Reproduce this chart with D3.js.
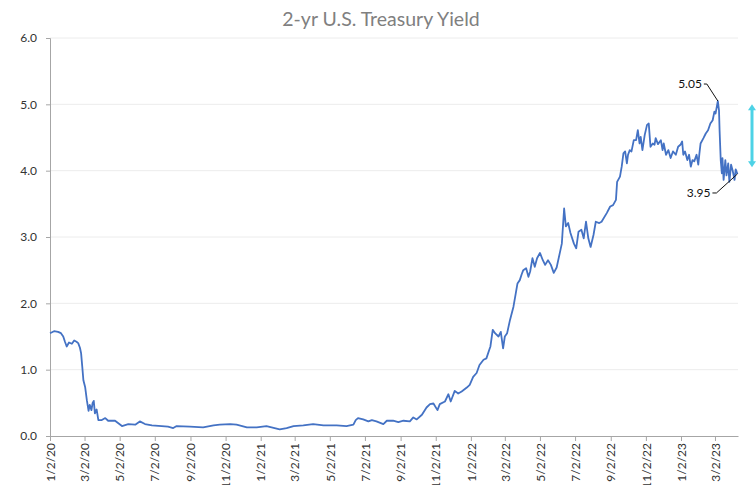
<!DOCTYPE html>
<html><head><meta charset="utf-8">
<script src="https://cdn.jsdelivr.net/npm/d3@7"></script>
<style>html,body{margin:0;padding:0;background:#fff;}svg{display:block;}</style>
</head><body>
<svg id="chart" width="756" height="485"></svg>
<script>
const title = "2-yr U.S. Treasury Yield";
const dates = [
"2020-01-02","2020-01-09","2020-01-16","2020-01-21","2020-01-25","2020-01-28","2020-01-31","2020-02-04","2020-02-09","2020-02-13",
"2020-02-17","2020-02-20","2020-02-23","2020-02-25","2020-02-27","2020-02-29","2020-03-03","2020-03-06","2020-03-09","2020-03-11",
"2020-03-14","2020-03-16","2020-03-18","2020-03-20","2020-03-23","2020-03-26","2020-04-01","2020-04-07","2020-04-12","2020-04-24",
"2020-05-06","2020-05-17","2020-05-29","2020-06-06","2020-06-15","2020-06-27","2020-07-14","2020-07-25","2020-08-03","2020-08-09",
"2020-09-01","2020-09-24","2020-10-12","2020-10-23","2020-11-10","2020-11-21","2020-12-09","2020-12-26","2021-01-12","2021-02-04",
"2021-02-16","2021-02-28","2021-03-17","2021-04-03","2021-04-21","2021-05-14","2021-05-31","2021-06-12","2021-06-16","2021-06-20",
"2021-06-29","2021-07-08","2021-07-14","2021-07-22","2021-08-03","2021-08-09","2021-08-20","2021-08-29","2021-09-07","2021-09-18",
"2021-09-24","2021-09-30","2021-10-09","2021-10-17","2021-10-23","2021-10-29","2021-11-05","2021-11-09","2021-11-18","2021-11-24",
"2021-11-28","2021-12-05","2021-12-11","2021-12-17","2021-12-26","2021-12-31","2022-01-06","2022-01-12","2022-01-17","2022-01-24",
"2022-01-29","2022-02-03","2022-02-05","2022-02-09","2022-02-13","2022-02-19","2022-02-23","2022-02-27","2022-03-02","2022-03-06",
"2022-03-11","2022-03-17","2022-03-21","2022-03-24","2022-03-28","2022-03-31","2022-04-03","2022-04-08","2022-04-12","2022-04-15",
"2022-04-19","2022-04-23","2022-04-27","2022-05-02","2022-05-07","2022-05-11","2022-05-16","2022-05-21","2022-05-26","2022-05-31",
"2022-06-06","2022-06-09","2022-06-13","2022-06-16","2022-06-20","2022-06-24","2022-06-30","2022-07-04","2022-07-08","2022-07-13",
"2022-07-17","2022-07-21","2022-07-25","2022-07-29","2022-08-03","2022-08-07","2022-08-13","2022-08-17","2022-08-26","2022-09-01",
"2022-09-06","2022-09-11","2022-09-13","2022-09-18","2022-09-21","2022-09-24","2022-09-27","2022-09-30","2022-10-02","2022-10-05",
"2022-10-08","2022-10-12","2022-10-16","2022-10-19","2022-10-22","2022-10-24","2022-10-27","2022-10-31","2022-11-04","2022-11-07",
"2022-11-10","2022-11-14","2022-11-17","2022-11-19","2022-11-23","2022-11-28","2022-12-01","2022-12-03","2022-12-07","2022-12-11",
"2022-12-15","2022-12-19","2022-12-24","2022-12-28","2023-01-01","2023-01-04","2023-01-06","2023-01-09","2023-01-13","2023-01-16",
"2023-01-19","2023-01-22","2023-01-25","2023-01-29","2023-02-01","2023-02-03","2023-02-05","2023-02-10","2023-02-14","2023-02-18",
"2023-02-22","2023-02-26","2023-03-01","2023-03-03","2023-03-07","2023-03-09","2023-03-10","2023-03-12","2023-03-14","2023-03-15",
"2023-03-17","2023-03-20","2023-03-22","2023-03-25","2023-03-27","2023-03-30","2023-04-02","2023-04-05","2023-04-07","2023-04-10"
];
const yields = [
1.55,1.58,1.57,1.55,1.50,1.42,1.35,1.41,1.39,1.44,
1.42,1.40,1.33,1.25,1.05,0.84,0.74,0.54,0.38,0.47,
0.39,0.50,0.53,0.34,0.40,0.24,0.24,0.27,0.23,0.23,
0.15,0.18,0.17,0.22,0.18,0.16,0.15,0.14,0.12,0.15,
0.14,0.13,0.16,0.17,0.18,0.17,0.13,0.13,0.15,0.10,
0.12,0.15,0.16,0.18,0.16,0.16,0.15,0.17,0.24,0.27,
0.25,0.22,0.24,0.22,0.18,0.23,0.23,0.21,0.23,0.22,
0.28,0.25,0.32,0.43,0.48,0.49,0.39,0.48,0.52,0.63,
0.52,0.68,0.64,0.67,0.73,0.77,0.89,0.95,1.07,1.15,
1.17,1.30,1.35,1.60,1.55,1.50,1.57,1.32,1.50,1.55,
1.75,1.95,2.15,2.30,2.35,2.43,2.50,2.53,2.40,2.48,
2.68,2.55,2.68,2.76,2.65,2.58,2.65,2.58,2.46,2.54,
2.78,2.90,3.43,3.16,3.21,3.06,2.90,2.83,3.08,3.11,
2.98,3.23,2.98,2.85,3.03,3.23,3.21,3.23,3.36,3.46,
3.48,3.56,3.83,3.91,4.06,4.26,4.29,4.11,4.24,4.31,
4.29,4.46,4.46,4.61,4.41,4.51,4.31,4.54,4.69,4.71,
4.36,4.41,4.39,4.49,4.40,4.46,4.31,4.41,4.24,4.31,
4.19,4.29,4.24,4.36,4.39,4.44,4.24,4.29,4.16,4.24,
4.06,4.16,4.14,4.24,4.09,4.26,4.41,4.49,4.56,4.61,
4.71,4.76,4.89,4.86,5.05,4.91,4.61,4.16,3.96,4.19,
3.86,4.16,3.93,4.11,3.83,4.09,3.99,3.86,4.02,3.95
];
const yTicks = [0,1,2,3,4,5,6];
const xTickLabels = ["1/2/20","3/2/20","5/2/20","7/2/20","9/2/20","11/2/20","1/2/21","3/2/21","5/2/21","7/2/21","9/2/21","11/2/21","1/2/22","3/2/22","5/2/22","7/2/22","9/2/22","11/2/22","1/2/23","3/2/23"];
const xDomain = ["2020-01-02","2023-04-11"];
const peakLabel = "5.05", lastLabel = "3.95";
const arrowRange = [5.0, 4.05];

const parse = d3.timeParse("%Y-%m-%d");
const parseTick = d3.timeParse("%m/%d/%y");
const data = dates.map((d,i)=>({date:parse(d), v:yields[i]}));

const svg = d3.select("#chart");
const m = {left:50, right:738, top:38, bottom:436};
const x = d3.scaleTime().domain(xDomain.map(parse)).range([m.left, m.right]);
const y = d3.scaleLinear().domain([0,6]).range([m.bottom, m.top]);
const font = "Lato, 'Open Sans', sans-serif";

svg.append("text").attr("x",381).attr("y",26).attr("text-anchor","middle")
  .attr("font-family",font).attr("font-size",19.5).attr("fill","#808080").text(title);

// gridlines
svg.append("g").selectAll("line").data(yTicks.filter(t=>t>0)).join("line")
  .attr("x1",m.left).attr("x2",m.right).attr("y1",d=>y(d)).attr("y2",d=>y(d))
  .attr("stroke","#ececec").attr("stroke-width",1);

// y axis
const yAxis = svg.append("g").attr("transform",`translate(${m.left},0)`)
  .call(d3.axisLeft(y).tickValues(yTicks).tickFormat(d3.format(".1f")).tickSize(4).tickPadding(9));
yAxis.select(".domain").attr("stroke","#a6a6a6");
yAxis.selectAll(".tick line").attr("stroke","#a6a6a6");
yAxis.selectAll("text").attr("font-family",font).attr("font-size",12).attr("fill","#333");

// x axis
const xAxis = svg.append("g").attr("transform",`translate(0,${m.bottom})`)
  .call(d3.axisBottom(x).tickValues(xTickLabels.map(parseTick)).tickFormat(d3.timeFormat("%-m/%-d/%y")).tickSize(5).tickSizeOuter(0));
xAxis.select(".domain").attr("stroke","#a6a6a6");
xAxis.selectAll(".tick line").attr("stroke","#a6a6a6");
xAxis.selectAll("text").attr("font-family",font).attr("font-size",12).attr("fill","#333")
  .attr("transform","rotate(-90)").attr("text-anchor","end").attr("x",-7).attr("y",0).attr("dy","0.35em");

// line
svg.append("path").datum(data)
  .attr("fill","none").attr("stroke","#4472c4").attr("stroke-width",1.8).attr("stroke-linejoin","round")
  .attr("d", d3.line().x(d=>x(d.date)).y(d=>y(d.v)));

// annotations
const peak = data.reduce((a,b)=>b.v>a.v?b:a);
const last = data[data.length-1];
const ann = svg.append("g").attr("font-family",font).attr("font-size",12).attr("fill","#111");
ann.append("text").attr("x",x(peak.date)-16).attr("y",y(peak.v)-17).attr("text-anchor","end").attr("dy","0.35em").text(peakLabel);
ann.append("path").attr("fill","none").attr("stroke","#111").attr("stroke-width",1)
  .attr("d",`M${x(peak.date)-14},${y(peak.v)-17}L${x(peak.date)-11},${y(peak.v)-17}L${x(peak.date)},${y(peak.v)}`);
ann.append("text").attr("x",x(last.date)-27).attr("y",y(last.v)+19).attr("text-anchor","end").attr("dy","0.35em").text(lastLabel);
ann.append("path").attr("fill","none").attr("stroke","#111").attr("stroke-width",1)
  .attr("d",`M${x(last.date)-25},${y(last.v)+19}L${x(last.date)-21},${y(last.v)+19}L${x(last.date)},${y(last.v)}`);

// cyan double arrow
const ax = 752, c = "#4dd2e6";
const y1 = y(arrowRange[0]), y2 = y(arrowRange[1]);
svg.append("line").attr("x1",ax).attr("x2",ax).attr("y1",y1+4).attr("y2",y2-4).attr("stroke",c).attr("stroke-width",3);
svg.append("path").attr("fill",c).attr("d",`M${ax-4},${y1+6}L${ax},${y1}L${ax+4},${y1+6}Z`);
svg.append("path").attr("fill",c).attr("d",`M${ax-4},${y2-6}L${ax},${y2}L${ax+4},${y2-6}Z`);
</script>
</body></html>
